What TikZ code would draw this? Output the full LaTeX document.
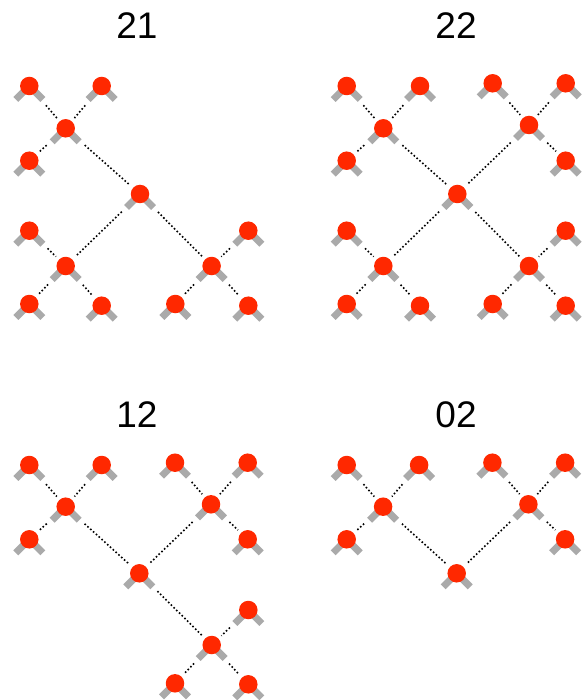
\documentclass[tikz,border=0pt]{standalone}
\usepackage{fontspec}
\setmainfont{Liberation Sans}
\definecolor{ballred}{RGB}{255,40,0}
\definecolor{leggray}{RGB}{170,170,170}
\tikzset{
  ball/.style={circle, fill=ballred, draw=none, inner sep=0pt, minimum size=18.5pt},
  leg/.style={draw=leggray, line width=7pt, line cap=butt},
  edge/.style={draw=black, line width=1.6pt, dash pattern=on 1.6pt off 2.2pt, shorten <=16pt, shorten >=4pt},
  title/.style={font=\fontsize{37}{40}\selectfont, anchor=base, inner sep=0pt}
}
\newcommand\mkball[3]{%
  \draw[leg] (#2,#3) -- ++(-13.5,13.5) (#2,#3) -- ++(13.5,13.5);
  \node[ball] (#1) at (#2,#3) {};}
\begin{document}
\begin{tikzpicture}[x=1pt,y=-1pt]
\useasboundingbox (0,0) rectangle (583,700);
% titles
\node[title] (t1) at (137,38.5) {21};
\node[title] (t2) at (456,38.5) {22};
\node[title] (t3) at (137,427) {12};
\node[title] (t4) at (456,427) {02};
% tree 21
\mkball{a1}{29.3}{86}
\mkball{a2}{101.7}{86}
\mkball{a3}{65.7}{128.3}
\mkball{a4}{29.3}{160.7}
\mkball{ar}{140}{194}
\mkball{a5}{29.3}{230.7}
\mkball{a6}{65.7}{266}
\mkball{a7}{29.3}{304}
\mkball{a8}{101.7}{305.7}
\mkball{a9}{248.3}{230.7}
\mkball{a10}{211.6}{266}
\mkball{a11}{175.3}{304}
\mkball{a12}{248.3}{305.7}
\foreach \u/\l in {a1/a3,a2/a3,a3/a4,a3/ar,ar/a6,a5/a6,a6/a7,a6/a8,ar/a10,a9/a10,a10/a11,a10/a12}
  \draw[edge] (\u) -- (\l);
% tree 22
\mkball{b1}{346.7}{86}
\mkball{b2}{420}{86}
\mkball{b3}{383.3}{128.3}
\mkball{b4}{346.7}{160.7}
\mkball{b5}{492.7}{83.3}
\mkball{b6}{565.7}{83.3}
\mkball{b7}{529}{125}
\mkball{b8}{565.7}{160.7}
\mkball{br}{457.3}{194}
\mkball{b9}{346.7}{230.7}
\mkball{b10}{383.3}{266}
\mkball{b11}{346.7}{304}
\mkball{b12}{420}{305.7}
\mkball{b13}{565.7}{230.7}
\mkball{b14}{529}{266}
\mkball{b15}{492.7}{304}
\mkball{b16}{565.7}{305.7}
\foreach \u/\l in {b1/b3,b2/b3,b3/b4,b3/br,b5/b7,b6/b7,b7/b8,b7/br,br/b10,b9/b10,b10/b11,b10/b12,br/b14,b13/b14,b14/b15,b14/b16}
  \draw[edge] (\u) -- (\l);
% tree 12
\mkball{c1}{29.3}{465}
\mkball{c2}{101.7}{465}
\mkball{c3}{65.7}{506.7}
\mkball{c4}{29.3}{539.3}
\mkball{c5}{175}{462.7}
\mkball{c6}{247.7}{462.7}
\mkball{c7}{211}{504.3}
\mkball{c8}{247.7}{539.3}
\mkball{cr}{139.3}{573.3}
\mkball{c9}{248.3}{610}
\mkball{c10}{211.7}{645}
\mkball{c11}{175}{683.3}
\mkball{c12}{248.3}{684.3}
\foreach \u/\l in {c1/c3,c2/c3,c3/c4,c3/cr,c5/c7,c6/c7,c7/c8,c7/cr,cr/c10,c9/c10,c10/c11,c10/c12}
  \draw[edge] (\u) -- (\l);
% tree 02
\mkball{d1}{346.7}{465}
\mkball{d2}{419.1}{465}
\mkball{d3}{383.1}{506.7}
\mkball{d4}{346.7}{539.3}
\mkball{d5}{492.4}{462.7}
\mkball{d6}{565.1}{462.7}
\mkball{d7}{528.4}{504.3}
\mkball{d8}{565.1}{539.3}
\mkball{dr}{456.7}{573.3}
\foreach \u/\l in {d1/d3,d2/d3,d3/d4,d3/dr,d5/d7,d6/d7,d7/d8,d7/dr}
  \draw[edge] (\u) -- (\l);
\end{tikzpicture}
\end{document}
